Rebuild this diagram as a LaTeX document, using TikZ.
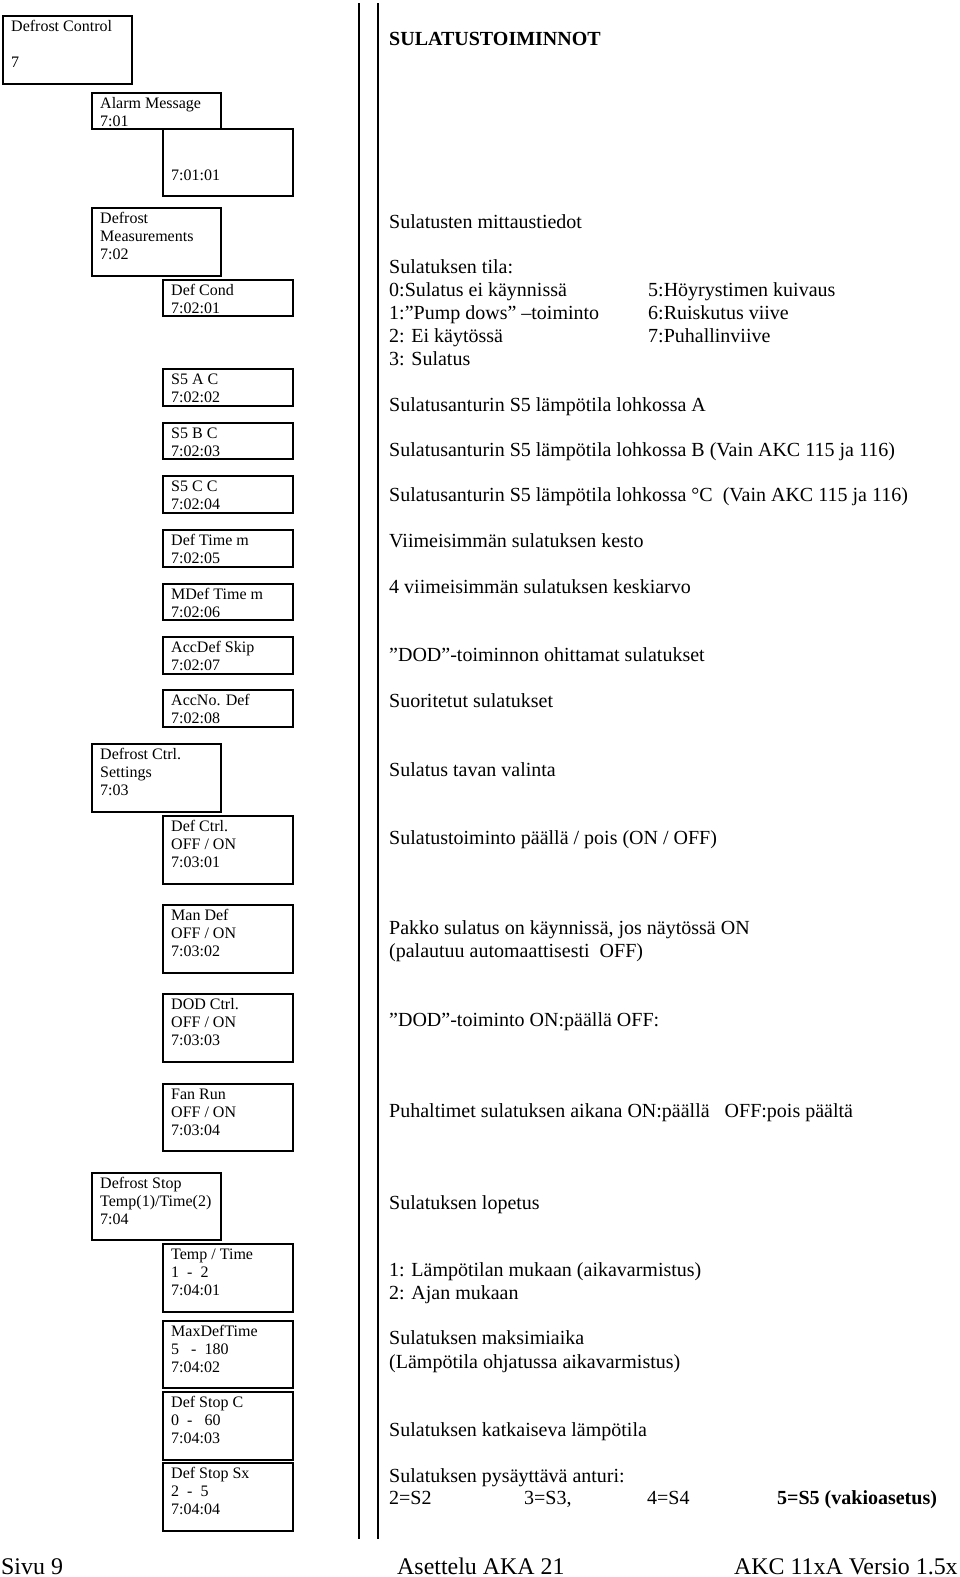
\documentclass[tikz,border=0pt]{standalone}
\usepackage{fontspec}
\setmainfont{Liberation Serif}
\tikzset{
  menubox/.style={draw, line width=1.6pt, rectangle, anchor=north west, inner sep=0pt},
  boxtext/.style={anchor=base west, inner sep=0pt, font=\fontsize{16}{18}\selectfont},
  desc/.style={anchor=base west, inner sep=0pt, yshift=-2pt, font=\fontsize{20}{23}\selectfont},
  foot/.style={anchor=base west, inner sep=0pt, font=\fontsize{23.9}{26}\selectfont},
  vline/.style={line width=1.8pt},
}
\newcommand{\menuitem}[6]{%
  \node[menubox, minimum width=#4pt, minimum height=#5pt] (#1) at (#2,#3) {};
  \node[boxtext] (#1-t) at ([xshift=9pt,yshift=-16pt]#1.north west) {\parbox[t]{#4pt}{\raggedright #6}};
}
\begin{document}
\begin{tikzpicture}[x=1pt,y=-1pt]
\useasboundingbox (0,0) rectangle (960,1577);

% vertical rules
\coordinate (v1a) at (359,3);
\coordinate (v1b) at (359,1539);
\coordinate (v2a) at (378,3);
\coordinate (v2b) at (378,1539);
\draw[vline] (v1a) -- (v1b);
\draw[vline] (v2a) -- (v2b);

% left menu tree
\menuitem{dc}{2}{15}{129}{68}{Defrost Control\\\strut\\7}
\menuitem{am}{91}{92}{129}{36}{Alarm Message\\7:01}
\menuitem{am1}{162}{128}{130}{67}{\strut\\\strut\\7:01:01}
\menuitem{dm}{91}{207}{129}{68}{Defrost\\Measurements\\7:02}
\menuitem{dm1}{162}{279}{130}{36}{Def Cond\\7:02:01}
\menuitem{dm2}{162}{368}{130}{37}{S5 A C\\7:02:02}
\menuitem{dm3}{162}{422}{130}{36}{S5 B C\\7:02:03}
\menuitem{dm4}{162}{475}{130}{37}{S5 C C\\7:02:04}
\menuitem{dm5}{162}{529}{130}{37}{Def Time m\\7:02:05}
\menuitem{dm6}{162}{583}{130}{36}{MDef Time m\\7:02:06}
\menuitem{dm7}{162}{636}{130}{37}{AccDef Skip\\7:02:07}
\menuitem{dm8}{162}{689}{130}{37}{AccNo. Def\\7:02:08}
\menuitem{ds}{91}{743}{129}{68}{Defrost Ctrl.\\Settings\\7:03}
\menuitem{ds1}{162}{815}{130}{68}{Def Ctrl.\\OFF / ON\\7:03:01}
\menuitem{ds2}{162}{904}{130}{68}{Man Def\\OFF / ON\\7:03:02}
\menuitem{ds3}{162}{993}{130}{68}{DOD Ctrl.\\OFF / ON\\7:03:03}
\menuitem{ds4}{162}{1083}{130}{67}{Fan Run\\OFF / ON\\7:03:04}
\menuitem{st}{91}{1172}{129}{67}{Defrost Stop\\Temp(1)/Time(2)\\7:04}
\menuitem{st1}{162}{1243}{130}{68}{Temp / Time\\1 \ - \ 2\\7:04:01}
\menuitem{st2}{162}{1320}{130}{67}{MaxDefTime\\5 \ \ - \ 180\\7:04:02}
\menuitem{st3}{162}{1391}{130}{68}{Def Stop C\\0 \ - \ \ 60\\7:04:03}
\menuitem{st4}{162}{1462}{130}{68}{Def Stop Sx\\2 \ - \ 5\\7:04:04}

% right descriptions
\node[desc, font=\fontsize{20}{23}\selectfont\bfseries] (title) at (389,43) {SULATUSTOIMINNOT};
\node[desc] (d01) at (389,226.5) {Sulatusten mittaustiedot};
\node[desc] (d02) at (389,271.5) {Sulatuksen tila:};
\node[desc] (d03) at (389,294.5) {0:Sulatus ei käynnissä};
\node[desc] (d03b) at (648,294.5) {5:Höyrystimen kuivaus};
\node[desc] (d04) at (389,317.5) {1:”Pump dows” –toiminto};
\node[desc] (d04b) at (648,317.5) {6:Ruiskutus viive};
\node[desc] (d05) at (389,340.5) {2: Ei käytössä};
\node[desc] (d05b) at (648,340.5) {7:Puhallinviive};
\node[desc] (d06) at (389,363.5) {3: Sulatus};
\node[desc] (d07) at (389,409) {Sulatusanturin S5 lämpötila lohkossa A};
\node[desc] (d08) at (389,454) {Sulatusanturin S5 lämpötila lohkossa B (Vain AKC 115 ja 116)};
\node[desc] (d09) at (389,499.5) {Sulatusanturin S5 lämpötila lohkossa °C \ (Vain AKC 115 ja 116)};
\node[desc] (d10) at (389,545.5) {Viimeisimmän sulatuksen kesto};
\node[desc] (d11) at (389,591) {4 viimeisimmän sulatuksen keskiarvo};
\node[desc] (d12) at (389,659) {”DOD”-toiminnon ohittamat sulatukset};
\node[desc] (d13) at (389,705.5) {Suoritetut sulatukset};
\node[desc] (d14) at (389,774) {Sulatus tavan valinta};
\node[desc] (d15) at (389,842) {Sulatustoiminto päällä / pois (ON / OFF)};
\node[desc] (d16) at (389,932.5) {Pakko sulatus on käynnissä, jos näytössä ON};
\node[desc] (d17) at (389,955.5) {(palautuu automaattisesti \ OFF)};
\node[desc] (d18) at (389,1024) {”DOD”-toiminto ON:päällä OFF:};
\node[desc] (d19) at (389,1115.5) {Puhaltimet sulatuksen aikana ON:päällä \ \ OFF:pois päältä};
\node[desc] (d20) at (389,1207) {Sulatuksen lopetus};
\node[desc] (d21) at (389,1274) {1: Lämpötilan mukaan (aikavarmistus)};
\node[desc] (d22) at (389,1297.5) {2: Ajan mukaan};
\node[desc] (d23) at (389,1342.5) {Sulatuksen maksimiaika};
\node[desc] (d24) at (389,1366) {(Lämpötila ohjatussa aikavarmistus)};
\node[desc] (d25) at (389,1434) {Sulatuksen katkaiseva lämpötila};
\node[desc] (d26) at (389,1480) {Sulatuksen pysäyttävä anturi:};
\node[desc] (d27a) at (389,1502.5) {2=S2};
\node[desc] (d27b) at (524,1502.5) {3=S3,};
\node[desc] (d27c) at (647,1502.5) {4=S4};
\node[desc, font=\fontsize{20}{23}\selectfont\bfseries] (d27d) at (777,1502.5) {5=S5 (vakioasetus)};

% footer
\node[foot] (f1) at (1,1574) {Sivu 9};
\node[foot] (f2) at (397,1574) {Asettelu AKA 21};
\node[foot] (f3) at (734,1574) {AKC 11xA Versio 1.5x};
\end{tikzpicture}
\end{document}
